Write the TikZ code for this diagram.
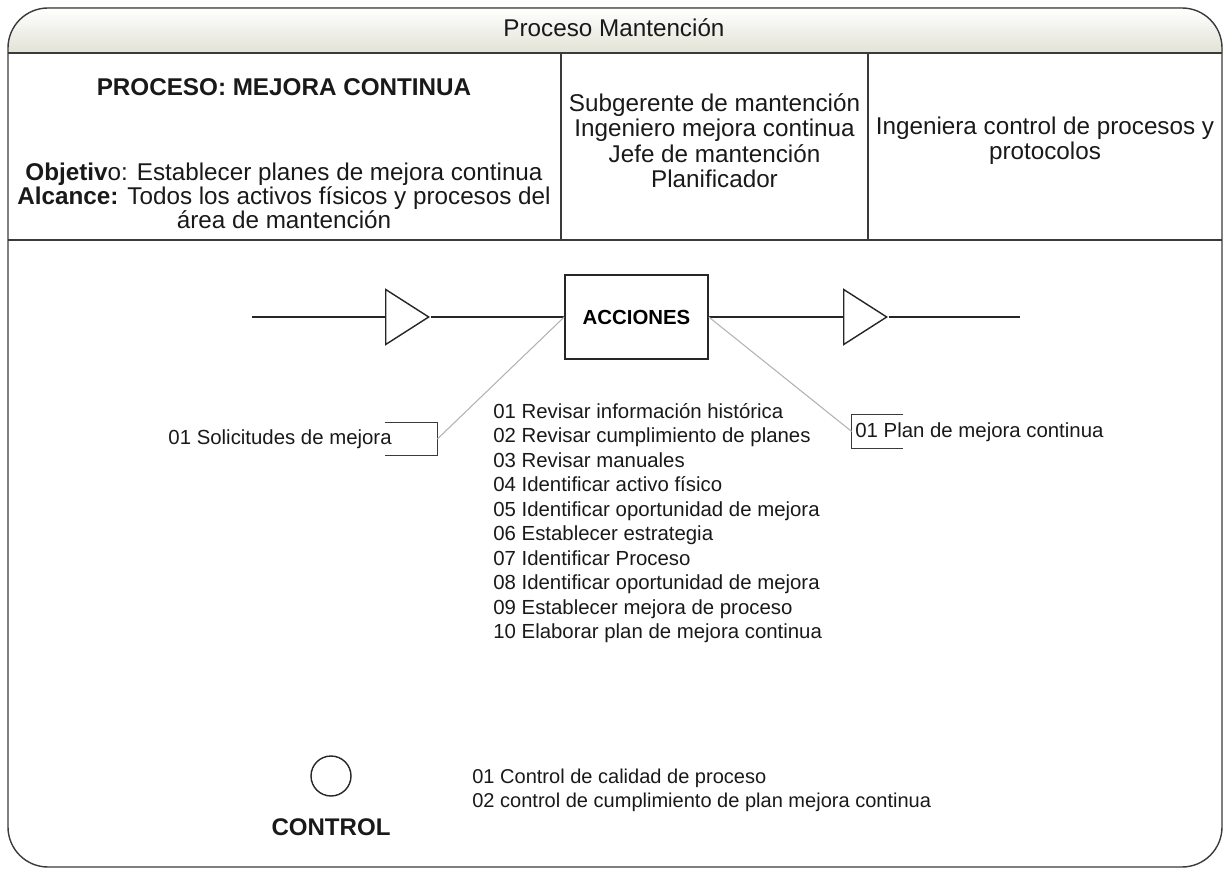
\documentclass[tikz,border=0pt]{standalone}
\usepackage{fontspec}
\setmainfont{Liberation Sans}
\usetikzlibrary{shapes.geometric}

\definecolor{linea}{HTML}{3A3A3A}
\definecolor{enlace}{HTML}{B2B2B2}
\definecolor{cabecera}{HTML}{E2E2D6}

\tikzset{
	marco/.style = {draw=linea, line width=0.8pt},
	flujo/.style = {draw=black!85, line width=0.9pt},
	enlace/.style = {draw=enlace, line width=0.6pt},
	grande/.style = {inner sep=0, text=black!90, font=\fontsize{13.8}{14.5}\selectfont},
	lista/.style = {inner sep=0, align=left, text=black!90, font=\fontsize{11.6}{13.95}\selectfont},
	caja/.style = {draw=black!85, line width=0.9pt, fill=white, minimum width=2.86cm, minimum height=1.68cm, font=\fontsize{11.6}{13.9}\selectfont\bfseries},
	triangulo/.style = {draw=black!85, line width=0.8pt, fill=white, isosceles triangle, isosceles triangle stretches, minimum width=1.1cm, minimum height=0.86cm, inner sep=0},
	corchete/.style = {minimum width=1.04cm, minimum height=0.64cm, inner sep=0},
	circulo/.style = {draw=black!85, line width=0.8pt, circle, minimum size=0.8cm, inner sep=0}
}

\begin{document}
\begin{tikzpicture}[x=0.02cm, y=-0.02cm]
	\def\xL{8}
	\def\xR{1222}
	\def\yT{8}
	\def\yB{867}
	\def\yH{53}
	\def\yF{240}

	\useasboundingbox (0,0) rectangle (1228,871);

	% cabecera y tabla
	\fill [top color=white, bottom color=cabecera] (\xL,\yH) [rounded corners=0.8cm] -- (\xL,\yT) -- (\xR,\yT) [sharp corners] -- (\xR,\yH) -- cycle;
	\draw [marco] (\xL,\yH) -- (\xR,\yH) (\xL,\yF) -- (\xR,\yF);
	\draw [marco] (561,\yH) -- (561,\yF) (868,\yH) -- (868,\yF);
	\draw [marco, rounded corners=0.8cm] (\xL,\yT) rectangle (\xR,\yB);

	\node [grande] (proceso) at (614,28) {Proceso Mantención};
	\node [grande, font=\fontsize{13.8}{14.5}\selectfont\bfseries] (nombre) at (284,87) {PROCESO: MEJORA CONTINUA};
	\node [grande, align=center, font=\fontsize{13.8}{13.6}\selectfont] (objetivo) at (284,196) {\textbf{Objetiv}o: Establecer planes de mejora continua\\\textbf{Alcance:} Todos los activos físicos y procesos del\\área de mantención};
	\node [grande, align=center] (cargos) at (714.5,140.5) {Subgerente de mantención\\Ingeniero mejora continua\\Jefe de mantención\\Planificador};
	\node [grande, align=center] (apoyo) at (1045,140.5) {Ingeniera control de procesos y\\protocolos};

	% flujo
	\coordinate (ini) at (252,317);
	\coordinate (fin) at (1020,317);
	\node [caja] (acciones) at (636.5,317) {ACCIONES};
	\node [triangulo, anchor=lower side] (trEntrada) at (385,317) {};
	\node [triangulo, anchor=lower side] (trSalida) at (843,317) {};

	\draw [flujo] (ini) -- (trEntrada.lower side);
	\draw [flujo] (trEntrada.apex) -- (acciones);
	\draw [flujo] (acciones) -- (trSalida.lower side);
	\draw [flujo] (trSalida.apex) -- (fin);

	% entradas y salidas
	\node [corchete] (solicitudes) at (411,439) {};
	\draw [marco] (solicitudes.north west) -- (solicitudes.north east) -- (solicitudes.south east) -- (solicitudes.south west);
	\node [lista, anchor=east] (solicitudesTxt) at (392,439) {01 Solicitudes de mejora};
	\draw [enlace] (acciones.west) -- (solicitudes.east);

	\node [corchete, minimum width=1.02cm, minimum height=0.66cm] (plan) at (877.5,431.5) {};
	\draw [marco] (plan.north east) -- (plan.north west) -- (plan.south west) -- (plan.south east);
	\node [lista, anchor=west] (planTxt) at (855,432) {01 Plan de mejora continua};
	\draw [enlace] (acciones.east) -- (plan.west);

	\node [lista, anchor=north west] (pasos) at (493,403) {01 Revisar información histórica\\02 Revisar cumplimiento de planes\\03 Revisar manuales\\04 Identificar activo físico\\05 Identificar oportunidad de mejora\\06 Establecer estrategia\\07 Identificar Proceso\\08 Identificar oportunidad de mejora\\09 Establecer mejora de proceso\\10 Elaborar plan de mejora continua};

	% control
	\node [circulo] (control) at (331,776) {};
	\node [grande, font=\fontsize{13.7}{14}\selectfont\bfseries] (controlTxt) at (331,827) {CONTROL};
	\node [lista, anchor=north west, font=\fontsize{11.4}{13.6}\selectfont] (controles) at (472,769) {01 Control de calidad de proceso\\02 control de cumplimiento de plan mejora continua};
\end{tikzpicture}
\end{document}
